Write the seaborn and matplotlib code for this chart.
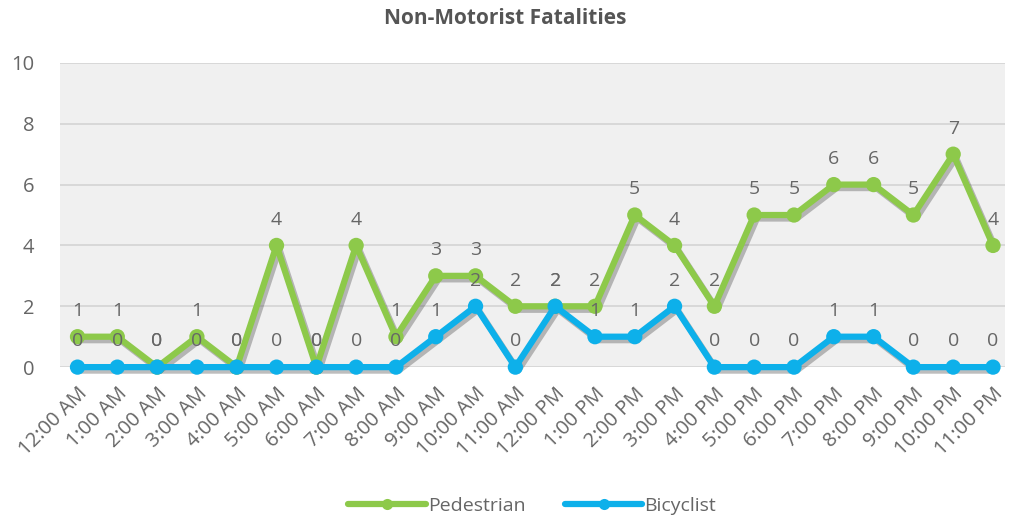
import matplotlib
matplotlib.use('Agg')
import matplotlib.pyplot as plt
import matplotlib.patheffects as pe
import pandas as pd
import seaborn as sns

hours = ['12:00 AM', '1:00 AM', '2:00 AM', '3:00 AM', '4:00 AM', '5:00 AM',
         '6:00 AM', '7:00 AM', '8:00 AM', '9:00 AM', '10:00 AM', '11:00 AM',
         '12:00 PM', '1:00 PM', '2:00 PM', '3:00 PM', '4:00 PM', '5:00 PM',
         '6:00 PM', '7:00 PM', '8:00 PM', '9:00 PM', '10:00 PM', '11:00 PM']
pedestrian = [1, 1, 0, 1, 0, 4, 0, 4, 1, 3, 3, 2, 2, 2, 5, 4, 2, 5, 5, 6, 6, 5, 7, 4]
bicyclist = [0, 0, 0, 0, 0, 0, 0, 0, 0, 1, 2, 0, 2, 1, 1, 2, 0, 0, 0, 1, 1, 0, 0, 0]

series = ['Pedestrian', 'Bicyclist']
colors = {'Pedestrian': '#8dc94a', 'Bicyclist': '#0db0ea'}

df = pd.concat([
    pd.DataFrame({'hour': range(len(hours)), 'count': pedestrian, 'series': 'Pedestrian'}),
    pd.DataFrame({'hour': range(len(hours)), 'count': bicyclist, 'series': 'Bicyclist'}),
])

sns.set_style('white')
plt.rcParams['font.family'] = ['Open Sans', 'DejaVu Sans']

fig = plt.figure(figsize=(10.1, 5.2), dpi=100)
ax = fig.add_axes([0.059, 0.294, 0.936, 0.585])
ax.set_facecolor('#f0f0f0')

shadow = [pe.SimpleLineShadow(offset=(2, -2.5), alpha=0.35, shadow_color='#444444'), pe.Normal()]
sns.lineplot(data=df, x='hour', y='count', hue='series', palette=colors,
             hue_order=series, marker='o', markersize=11, markeredgewidth=0,
             linewidth=4.5, ax=ax, clip_on=False, zorder=3, path_effects=shadow)

for name, vals in zip(series, [pedestrian, bicyclist]):
    for i, v in enumerate(vals):
        ax.annotate(str(v), (i, v), xytext=(0, 12), textcoords='offset points',
                    ha='center', va='bottom', fontsize=14, color='#666666', zorder=5)

ax.set_xlim(-0.45, 23.3)
ax.set_ylim(0, 10)
ax.set_yticks(range(0, 11, 2))
ax.yaxis.grid(True, color='#d4d4d4', linewidth=1.2)
ax.set_axisbelow(True)
ax.set_xticks(range(len(hours)))
ax.set_xticklabels(hours, rotation=45, ha='right', rotation_mode='anchor')
ax.tick_params(axis='both', labelsize=14.5, colors='#666666', length=0)
ax.tick_params(axis='x', pad=12)
ax.tick_params(axis='y', pad=18)
for s in ax.spines.values():
    s.set_visible(False)
ax.set_xlabel('')
ax.set_ylabel('')

fig.suptitle('Non-Motorist Fatalities', x=0.5, y=0.985, fontsize=15,
             fontweight='bold', color='#555555')

leg = ax.legend(loc='upper center', bbox_to_anchor=(0.5, -0.37), ncol=2,
                frameon=False, fontsize=14, handlelength=4, columnspacing=2,
                handletextpad=0.1, labelcolor='#666666')
for h in leg.legend_handles:
    h.set_path_effects([])
    h.set_markersize(8)

fig.savefig('out.png', dpi=100)
